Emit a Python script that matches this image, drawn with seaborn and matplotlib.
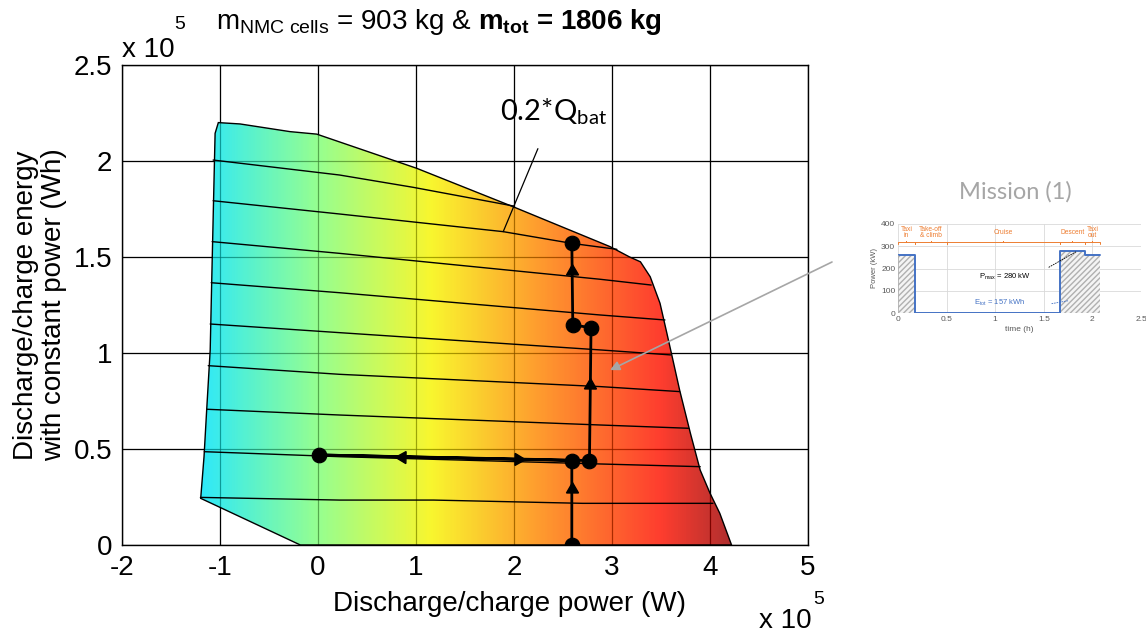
import numpy as np
import pandas as pd
import matplotlib
matplotlib.use("Agg")
import matplotlib.pyplot as plt
from matplotlib.patches import Polygon
from matplotlib.colors import LinearSegmentedColormap
import seaborn as sns

# ---------------- data (power in 1e5 W, energy in 1e5 Wh) ----------------
env_p = np.array([-1.017, -0.796, -0.286, -0.013, 1.007, 1.99, 2.98, 3.18, 3.29,
                  3.39, 3.49, 3.56, 3.61, 3.69, 3.80, 3.90, 4.00, 4.10, 4.22,
                  -0.18, -1.197, -1.163, -1.136, -1.10, -1.085, -1.068, -1.05])
env_e = np.array([2.200, 2.193, 2.153, 2.140, 1.962, 1.762, 1.554, 1.500, 1.475,
                  1.397, 1.259, 1.103, 0.990, 0.807, 0.582, 0.390, 0.270, 0.165, 0.0,
                  0.0, 0.243, 0.460, 0.703, 1.016, 1.363, 1.745, 2.144])

soc_lines_p = [
    [-1.07, 0.22, 0.97, 2.00],
    [-1.07, 0.22, 1.89, 2.59, 3.05],
    [-1.08, 0.22, 2.88, 3.40],
    [-1.09, 0.22, 2.88, 3.54],
    [-1.10, 0.22, 2.88, 3.60],
    [-1.12, 0.22, 2.88, 3.69],
    [-1.135, 0.22, 2.88, 3.78],
    [-1.16, 0.22, 2.88, 3.90],
    [-1.20, 0.22, 1.18, 2.70, 4.03],
]
soc_lines_e = [
    [2.005, 1.927, 1.863, 1.765],
    [1.793, 1.724, 1.632, 1.571, 1.540],
    [1.580, 1.519, 1.384, 1.354],
    [1.366, 1.314, 1.198, 1.172],
    [1.151, 1.106, 1.016, 0.990],
    [0.934, 0.889, 0.825, 0.799],
    [0.707, 0.677, 0.625, 0.608],
    [0.486, 0.460, 0.422, 0.408],
    [0.248, 0.234, 0.234, 0.217, 0.217],
]

mission_p = [2.59, 2.59, 0.01, 2.77, 2.786, 2.60, 2.59]
mission_e = [0.0, 0.44, 0.469, 0.44, 1.132, 1.146, 1.575]
arrow_frac = [0.66, 0.67, 0.735, 0.57, None, 0.65]

# colour scale anchors (power in 1e5 W -> position on the jet map)
cmap_anchor_p = [-1.2, -0.03, 1.15, 2.3, 3.5, 4.22]
cmap_anchor_n = [0.35, 0.50, 0.65, 0.77, 0.89, 0.97]

# inset mission profile
mis_t = [0.0, 0.17, 1.67, 1.92, 2.08]
mis_P = [260, 0, 280, 260, 260]
phase_edges = [0.0, 0.17, 0.5, 1.67, 1.92, 2.08]
phase_names = ["Taxi\nin", "Take-off\n& climb", "Cruise", "Descent", "Taxi\nout"]

SCALE = 1e5

# ---------------- style ----------------
sns.set_theme(style="white")
plt.rcParams['font.family'] = ['Liberation Sans', 'DejaVu Sans']
plt.rcParams['text.color'] = 'black'
plt.rcParams['axes.labelcolor'] = 'black'
plt.rcParams['mathtext.fontset'] = 'custom'
plt.rcParams['mathtext.rm'] = 'Liberation Sans'
plt.rcParams['mathtext.it'] = 'Liberation Sans'
plt.rcParams['mathtext.bf'] = 'Liberation Sans:bold'

fig = plt.figure(figsize=(11.46, 6.32), dpi=100)
ax = fig.add_axes([122/1146, 1-545/632, (808-122)/1146, (545-65)/632])

ax.set_xlim(-2*SCALE, 5*SCALE)
ax.set_ylim(0, 2.5*SCALE)
xt = np.arange(-2, 6)*SCALE
yt = np.arange(0, 2.51, 0.5)*SCALE
ax.set_xticks(xt)
ax.set_yticks(yt)
ax.xaxis.set_major_formatter(plt.FuncFormatter(lambda v, _: f"{v/SCALE:g}"))
ax.yaxis.set_major_formatter(plt.FuncFormatter(lambda v, _: f"{v/SCALE:g}"))
ax.tick_params(labelsize=20, length=0, pad=7, colors='black')
ax.grid(True, color='black', lw=0.9)
ax.set_axisbelow(True)
for s in ax.spines.values():
    s.set_color('black'); s.set_linewidth(1.0)

# envelope with power colour gradient
P = env_p*SCALE; E = env_e*SCALE
poly = Polygon(np.column_stack([P, E]), closed=True, facecolor='none',
               edgecolor='black', lw=1.0, zorder=3)
ax.add_patch(poly)
jet = plt.get_cmap('jet')
ap = np.array(cmap_anchor_p)
pos = (ap - ap[0])/(ap[-1] - ap[0])
cmap = LinearSegmentedColormap.from_list('envjet', list(zip(pos, jet(cmap_anchor_n))))
grad = np.linspace(P.min(), P.max(), 600)[None, :]
im = ax.imshow(grad, extent=[P.min(), P.max(), E.min(), E.max()], aspect='auto',
               cmap=cmap, vmin=ap[0]*SCALE, vmax=ap[-1]*SCALE, origin='lower',
               alpha=0.82, zorder=2, interpolation='bilinear')
im.set_clip_path(poly)
# faint grid seen through the fill
for v in xt[1:-1]:
    ax.axvline(v, color='black', lw=0.8, alpha=0.18, zorder=2.5)
for v in yt[1:-1]:
    ax.axhline(v, color='black', lw=0.8, alpha=0.18, zorder=2.5)

# constant-SOC lines
rows = []
for i, (lp, le) in enumerate(zip(soc_lines_p, soc_lines_e)):
    for k, (p, e) in enumerate(zip(lp, le)):
        rows.append(dict(line=i, order=k, p=p*SCALE, e=e*SCALE))
df = pd.DataFrame(rows)
sns.lineplot(data=df, x='p', y='e', units='line', estimator=None, sort=False,
             color='black', lw=1.0, ax=ax, zorder=4, legend=False)

# mission path
mp = np.array(mission_p)*SCALE; me = np.array(mission_e)*SCALE
sns.lineplot(x=mp, y=me, sort=False, estimator=None, color='black', lw=2.0,
             ax=ax, zorder=5)
sns.scatterplot(x=mp, y=me, color='black', s=110, ax=ax, zorder=6, edgecolor='black')
for i, f in enumerate(arrow_frac):
    if f is None:
        continue
    x0, y0, x1, y1 = mp[i], me[i], mp[i+1], me[i+1]
    xm, ym = x0 + f*(x1-x0), y0 + f*(y1-y0)
    ang = np.degrees(np.arctan2((y1-y0)/2.5, (x1-x0)/7*686/480))
    ax.plot([xm], [ym], marker=(3, 0, ang-90), ms=10, color='black', zorder=6)

ax.set_xlabel("Discharge/charge power (W)", fontsize=20)
ax.xaxis.set_label_coords((510-122)/686, -(604-545)/480)
ax.xaxis.label.set_va('center')
ax.set_ylabel("Discharge/charge energy\nwith constant power (Wh)", fontsize=20,
              linespacing=1.12)
ax.yaxis.set_label_coords(-(122-40)/686, 0.5)
ax.yaxis.label.set_va('center')

# 0.2*Qbat annotation
ax.annotate(r"0.2*Q$_{\mathregular{bat}}$", xy=(1.89*SCALE, 1.632*SCALE),
            xytext=(2.40*SCALE, 2.255*SCALE), ha='center', va='center',
            fontsize=21, family=['Lato', 'DejaVu Sans'],
            arrowprops=dict(arrowstyle='-', color='black', lw=0.9, shrinkA=14, shrinkB=0),
            zorder=7)

# exponent labels (Matlab style)
fig.text(122/1146, 1-57/632, "x 10", fontsize=20, ha='left', va='baseline')
fig.text(174/1146, 1-29/632, "5", fontsize=14, ha='left', va='baseline')
fig.text(759/1146, 1-628/632, "x 10", fontsize=20, ha='left', va='baseline')
fig.text(813/1146, 1-604/632, "5", fontsize=14, ha='left', va='baseline')

# title (regular part + bold part)
fig.text(471/1146, 1-22/632, r"m$_{\mathregular{NMC\ cells}}$ = 903 kg &",
         fontsize=20, ha='right', va='center')
fig.text(478/1146, 1-22/632, r"m$_{\mathbf{tot}}$ = 1806 kg",
         fontsize=20, ha='left', va='center', fontweight='bold')

# grey arrow from inset
ax.annotate('', xy=(2.98*SCALE, 0.911*SCALE), xycoords='data',
            xytext=(832/1146, 1-262/632), textcoords='figure fraction',
            arrowprops=dict(arrowstyle='-|>', color='#a6a6a6', lw=1.2,
                            mutation_scale=14, shrinkA=0, shrinkB=0),
            annotation_clip=False, zorder=8).set_clip_on(False)

# ---------------- inset ----------------
fig.text(1015/1146, 1-192/632, "Mission (1)", fontsize=17, color='#a6a6a6',
         ha='center', va='center', family=['Lato', 'DejaVu Sans'])
ins = fig.add_axes([898/1146, 1-313/632, 243/1146, 89/632])
ins.set_xlim(0, 2.5); ins.set_ylim(0, 400)
ins.set_xticks([0, 0.5, 1, 1.5, 2, 2.5]); ins.set_yticks([0, 100, 200, 300, 400])
ins.set_xticklabels(['0', '0.5', '1', '1.5', '2', '2.5'])
ins.tick_params(labelsize=6, length=0, pad=2, colors='#595959')
ins.grid(True, color='#d9d9d9', lw=0.6)
ins.set_axisbelow(True)
for s in ins.spines.values():
    s.set_visible(False)
ins.set_xlabel("time (h)", fontsize=6, color='#595959', labelpad=2)
ins.set_ylabel("Power (kW)", fontsize=5.5, color='#595959', labelpad=2)
for a, b in [(0, 1), (2, 3), (3, 4)]:
    ins.fill_between([mis_t[a], mis_t[b]], 0, mis_P[a], facecolor='#f4f4f4',
                     edgecolor='#b0b0b0', hatch='//////', lw=0)
sns.lineplot(x=mis_t, y=mis_P, drawstyle='steps-post', estimator=None, sort=False,
             color='#4472C4', lw=1.4, ax=ins)
ins.plot([mis_t[0], mis_t[0]], [0, mis_P[0]], color='#b0b0b0', lw=0.6)
# phase braces
for a, b, name in zip(phase_edges[:-1], phase_edges[1:], phase_names):
    m = (a + b)/2
    ins.plot([a, a, m, m, m, b, b], [312, 318, 318, 324, 318, 318, 312],
             color='#ED7D31', lw=0.7, clip_on=False)
    ins.text(m, 362, name, fontsize=4.8, color='#ED7D31', ha='center', va='center',
             linespacing=0.95)
ins.text(1.1, 160, r"P$_{\mathregular{max}}$ = 280 kW", fontsize=5.5, color='black',
         ha='center', va='center')
ins.plot([1.55, 1.83], [205, 275], color='black', lw=0.6, ls=(0, (2, 1)))
ins.text(1.05, 45, r"E$_{\mathregular{tot}}$ = 157 kWh", fontsize=5.5, color='#4472C4',
         ha='center', va='center')
ins.plot([1.58, 1.75], [42, 55], color='#4472C4', lw=0.6, ls=(0, (2, 1)))

fig.savefig("out.png", dpi=100)
